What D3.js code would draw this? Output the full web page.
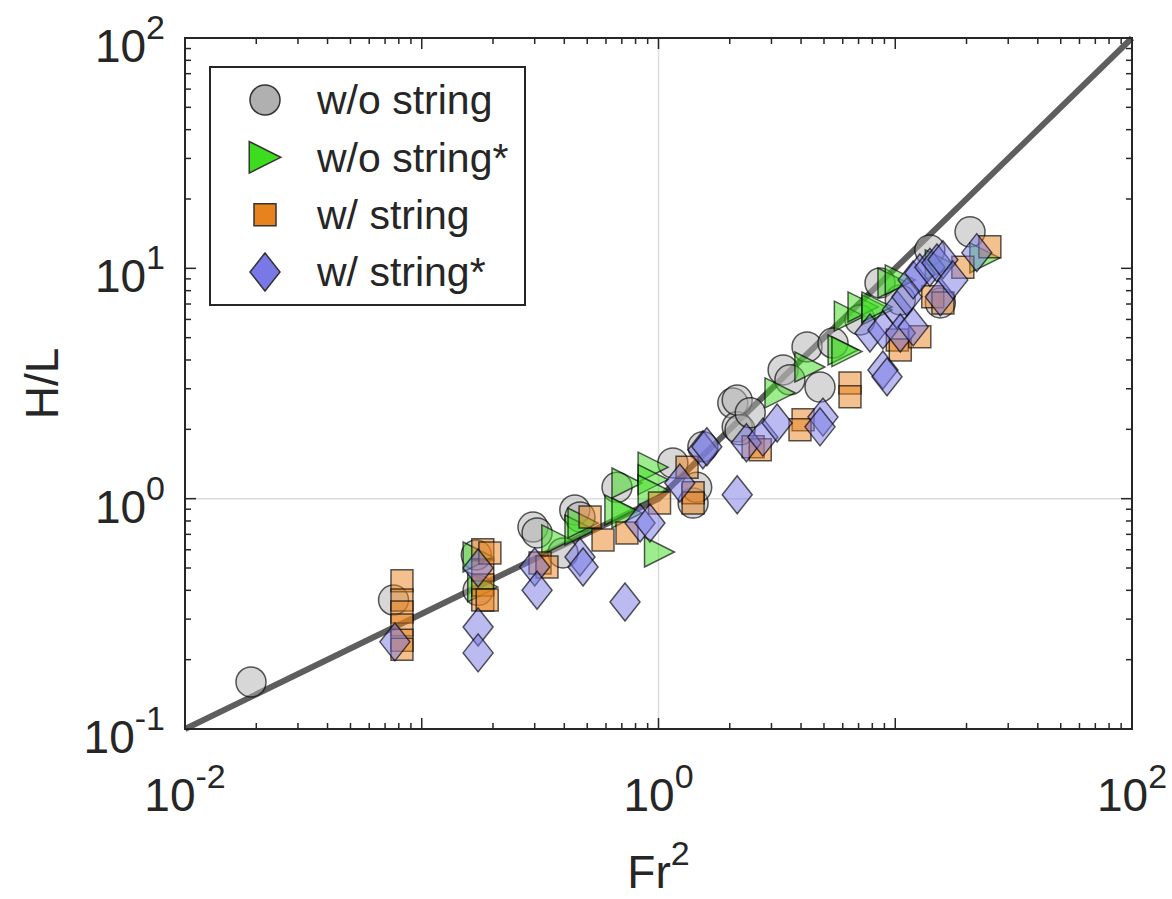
<!DOCTYPE html>
<html>
<head>
<meta charset="utf-8">
<script src="https://cdn.jsdelivr.net/npm/d3@7"></script>
<style>
  body { margin: 0; background: #fff; }
  text { font-family: Arial, "Liberation Sans", sans-serif; fill: #262626; }
</style>
</head>
<body>
<script>
// data (Fr^2 vs H/L)
var circFr = [0.019, 0.076, 0.17, 0.173, 0.295, 0.307, 0.395, 0.443, 0.466, 0.668, 1.15, 1.40, 1.45, 1.54, 2.06, 2.15, 2.15, 2.21, 2.44, 3.36, 3.59, 4.24, 4.81, 5.46, 7.1, 8.62, 10.5, 14.0, 15.5, 20.7];
var circHL = [0.16, 0.363, 0.57, 0.40, 0.753, 0.71, 0.581, 0.893, 0.833, 1.12, 1.43, 0.957, 1.12, 1.68, 2.60, 2.05, 2.68, 1.99, 2.36, 3.62, 3.28, 4.56, 3.05, 4.74, 5.97, 8.64, 7.29, 12.0, 7.08, 14.4];

var triFr = [0.173, 0.181, 0.372, 0.466, 0.48, 0.687, 0.736, 0.736, 0.949, 0.949, 0.949, 1.01, 3.26, 4.36, 6.02, 6.25, 6.4, 7.31, 8.37, 8.37, 9.78, 10.5, 15.5, 23.9];
var triHL = [0.558, 0.414, 0.662, 0.731, 0.784, 0.893, 1.17, 0.867, 1.37, 1.21, 1.09, 0.587, 2.88, 3.73, 4.42, 4.35, 6.2, 6.80, 6.60, 6.80, 8.64, 8.91, 10.35, 11.1];

var sqFr = [0.0825, 0.0825, 0.0825, 0.0825, 0.0825, 0.0825, 0.181, 0.181, 0.181, 0.181, 0.194, 0.189, 0.316, 0.338, 0.514, 0.583, 0.736, 1.01, 1.32, 1.40, 1.40, 2.51, 2.69, 4.08, 3.96, 6.44, 6.44, 10.2, 10.5, 12.7, 14.4, 15.9, 19.3, 25.1];
var sqHL = [0.44, 0.363, 0.322, 0.283, 0.243, 0.222, 0.60, 0.49, 0.422, 0.363, 0.581, 0.363, 0.526, 0.505, 0.833, 0.662, 0.71, 0.957, 1.37, 1.06, 0.957, 1.68, 1.63, 2.20, 1.99, 3.18, 2.77, 4.89, 4.42, 5.04, 7.52, 7.08, 10.1, 12.4];

var dmFr = [0.077, 0.173, 0.173, 0.173, 0.30, 0.307, 0.466, 0.48, 0.722, 0.836, 0.92, 1.23, 1.54, 1.60, 2.15, 2.35, 2.76, 3.17, 4.95, 4.81, 7.82, 8.87, 8.87, 9.23, 10.2, 10.5, 11.2, 11.9, 11.9, 12.7, 14.0, 15.0, 15.5, 15.9, 17.5, 22.1];
var dmHL = [0.239, 0.50, 0.277, 0.214, 0.505, 0.40, 0.558, 0.505, 0.356, 0.784, 0.784, 1.17, 1.63, 1.68, 1.04, 1.75, 1.85, 2.13, 2.26, 2.05, 5.24, 5.40, 3.62, 3.38, 6.60, 5.24, 7.52, 5.57, 8.91, 9.55, 10.1, 10.55, 7.52, 10.9, 8.91, 11.7];

// reference scaling line: slope 1/2 below Fr^2 = 1, slope 1 above
var lineFr = [0.01, 1, 100];
var lineHL = [0.1, 1, 100];

var seriesNames = ['w/o string', 'w/o string*', 'w/ string', 'w/ string*'];
var xTickLabels = [['10', '-2'], ['10', '0'], ['10', '2']];
var yTickLabels = [['10', '-1'], ['10', '0'], ['10', '1'], ['10', '2']];

var W = 1172, H = 899;
var pl = 185, pr = 1132, pt = 38, pb = 729;

var svg = d3.select('body').append('svg')
  .attr('width', W).attr('height', H);

var x = d3.scaleLog().domain([0.01, 100]).range([pl, pr]);
var y = d3.scaleLog().domain([0.1, 100]).range([pb, pt]);

// marker shapes
var shapes = {
  circle: function(s) { var r = 15 * s; return 'M' + r + ',0A' + r + ',' + r + ' 0 1,1 ' + (-r) + ',0A' + r + ',' + r + ' 0 1,1 ' + r + ',0Z'; },
  tri: function(s) { return 'M' + (-15 * s) + ',' + (-15 * s) + 'L' + (-15 * s) + ',' + (15 * s) + 'L' + (15 * s) + ',0Z'; },
  square: function(s) { var h = 11 * s; return 'M' + (-h) + ',' + (-h) + 'H' + h + 'V' + h + 'H' + (-h) + 'Z'; },
  diamond: function(s) { return 'M0,' + (-19 * s) + 'L' + (15 * s) + ',0L0,' + (19 * s) + 'L' + (-15 * s) + ',0Z'; }
};

var series = [
  { name: seriesNames[0], fr: circFr, hl: circHL, shape: 'circle', color: '#b0b0b0' },
  { name: seriesNames[1], fr: triFr, hl: triHL, shape: 'tri', color: '#3cdc1e' },
  { name: seriesNames[2], fr: sqFr, hl: sqHL, shape: 'square', color: '#e8821e' },
  { name: seriesNames[3], fr: dmFr, hl: dmHL, shape: 'diamond', color: '#7878e6' }
];

// grid lines at 10^0
svg.append('line')
  .attr('x1', x(1)).attr('x2', x(1)).attr('y1', pt).attr('y2', pb)
  .attr('stroke', '#dcdcdc').attr('stroke-width', 1.5);
svg.append('line')
  .attr('x1', pl).attr('x2', pr).attr('y1', y(1)).attr('y2', y(1))
  .attr('stroke', '#dcdcdc').attr('stroke-width', 1.5);

// reference line
var refLine = d3.line()
  .x(function(d) { return x(d[0]); })
  .y(function(d) { return y(d[1]); });
svg.append('path')
  .datum(lineFr.map(function(f, i) { return [f, lineHL[i]]; }))
  .attr('d', refLine)
  .attr('fill', 'none')
  .attr('stroke', '#5e5e5e').attr('stroke-width', 6);

// markers
series.forEach(function(s) {
  var pts = s.fr.map(function(f, i) { return [f, s.hl[i]]; });
  svg.append('g').selectAll('path')
    .data(pts)
    .enter()
    .append('path')
    .attr('d', shapes[s.shape](1))
    .attr('transform', function(d) { return 'translate(' + x(d[0]) + ',' + y(d[1]) + ')'; })
    .attr('fill', s.color).attr('fill-opacity', 0.5)
    .attr('stroke', '#000').attr('stroke-opacity', 0.65).attr('stroke-width', 1.5);
});

// axes box with inward ticks
var tickCol = '#262626';
var isMajor = function(v) { return Math.abs(Math.log10(v) - Math.round(Math.log10(v))) < 1e-6; };

var xt = x.ticks();
var yt = y.ticks();
var tg = svg.append('g').attr('stroke', tickCol).attr('stroke-width', 1.5);
xt.forEach(function(v) {
  var len = isMajor(v) ? 11 : 6;
  tg.append('line').attr('x1', x(v)).attr('x2', x(v)).attr('y1', pb).attr('y2', pb - len);
  tg.append('line').attr('x1', x(v)).attr('x2', x(v)).attr('y1', pt).attr('y2', pt + len);
});
yt.forEach(function(v) {
  var len = isMajor(v) ? 11 : 6;
  tg.append('line').attr('y1', y(v)).attr('y2', y(v)).attr('x1', pl).attr('x2', pl + len);
  tg.append('line').attr('y1', y(v)).attr('y2', y(v)).attr('x1', pr).attr('x2', pr - len);
});
svg.append('rect')
  .attr('x', pl).attr('y', pt).attr('width', pr - pl).attr('height', pb - pt)
  .attr('fill', 'none').attr('stroke', tickCol).attr('stroke-width', 2);

// tick labels
var xLabVals = [0.01, 1, 100];
xLabVals.forEach(function(v, i) {
  var t = svg.append('text')
    .attr('x', x(v)).attr('y', pb + 82)
    .attr('text-anchor', 'middle').style('font-size', '46px');
  t.append('tspan').text(xTickLabels[i][0]);
  t.append('tspan').attr('dy', -23).style('font-size', '34px').text(xTickLabels[i][1]);
});
var yLabVals = [0.1, 1, 10, 100];
yLabVals.forEach(function(v, i) {
  var t = svg.append('text')
    .attr('x', pl - 20).attr('y', y(v) + 24)
    .attr('text-anchor', 'end').style('font-size', '46px');
  t.append('tspan').text(yTickLabels[i][0]);
  t.append('tspan').attr('dy', -23).style('font-size', '34px').text(yTickLabels[i][1]);
});

// axis titles
var xl = svg.append('text')
  .attr('x', (pl + pr) / 2).attr('y', 888)
  .attr('text-anchor', 'middle').style('font-size', '46px');
xl.append('tspan').text('Fr');
xl.append('tspan').attr('dy', -23).style('font-size', '34px').text('2');

svg.append('text')
  .attr('transform', 'translate(58,' + ((pt + pb) / 2) + ') rotate(-90)')
  .attr('text-anchor', 'middle').style('font-size', '46px')
  .text('H/L');

// legend
var lg = svg.append('g');
lg.append('rect')
  .attr('x', 210).attr('y', 67).attr('width', 315).attr('height', 238)
  .attr('fill', '#fff').attr('stroke', tickCol).attr('stroke-width', 2);
var rowY = d3.scalePoint().domain(seriesNames).range([100, 272]);
series.forEach(function(s) {
  lg.append('path')
    .attr('d', shapes[s.shape](s.shape === 'tri' ? 1.05 : 1))
    .attr('transform', 'translate(265,' + rowY(s.name) + ')')
    .attr('fill', s.color)
    .attr('stroke', '#333').attr('stroke-width', 1.5);
  lg.append('text')
    .attr('x', 317).attr('y', rowY(s.name)).attr('dy', '0.35em')
    .style('font-size', '41px')
    .text(s.name);
});
</script>
</body>
</html>
